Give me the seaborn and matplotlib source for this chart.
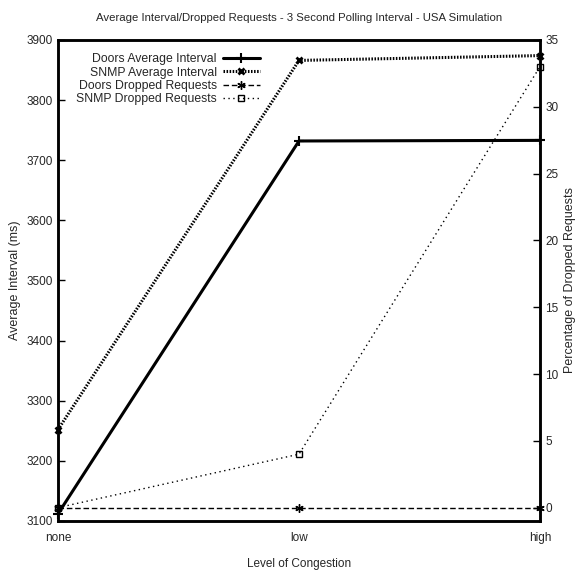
import matplotlib
matplotlib.use("Agg")
import matplotlib.pyplot as plt
import seaborn as sns
import pandas as pd

# Data
congestion = ["none", "low", "high"]
doors_avg = [3112, 3732, 3733]
snmp_avg = [3252, 3866, 3874]
doors_dropped = [0, 0, 0]
snmp_dropped = [0, 4, 33]

sns.set_theme(style="white")
plt.rcParams['font.family'] = ['Liberation Sans', 'DejaVu Sans']
plt.rcParams['font.size'] = 8.5

df = pd.DataFrame({"Level": congestion, "doors_avg": doors_avg, "snmp_avg": snmp_avg,
                   "doors_dropped": doors_dropped, "snmp_dropped": snmp_dropped})

fig = plt.figure(figsize=(5.8, 5.71), dpi=100)
ax = fig.add_axes([0.1, 0.0876, 0.831, 0.8424])
ax2 = ax.twinx()

sns.lineplot(data=df, x="Level", y="doors_avg", ax=ax, color="black", lw=2.2, clip_on=False,
             marker="+", markersize=7, mew=1.5, mec="black", label="Doors Average Interval", legend=False)
sns.lineplot(data=df, x="Level", y="snmp_avg", ax=ax, color="black", lw=2.2, clip_on=False,
             marker="x", markersize=5, mew=2, mec="black", label="SNMP Average Interval", legend=False)
ax.lines[-1].set_dashes((0.5, 0.5))
sns.lineplot(data=df, x="Level", y="doors_dropped", ax=ax2, color="black", lw=1, clip_on=False,
             marker=(6, 2, 0), markersize=6, mew=1, mec="black", label="Doors Dropped Requests", legend=False)
ax2.lines[-1].set_dashes((4, 2))
sns.lineplot(data=df, x="Level", y="snmp_dropped", ax=ax2, color="black", lw=1, clip_on=False,
             marker="s", markersize=5, mfc="none", mew=1, mec="black", label="SNMP Dropped Requests", legend=False)
ax2.lines[-1].set_dashes((1, 2.5))

ax.set_xlim(0, 2)
ax.set_ylim(3100, 3900)
ax.set_yticks(range(3100, 4000, 100))
ax2.set_ylim(-1, 35)
ax2.set_yticks(range(0, 40, 5))

ax.set_title("Average Interval/Dropped Requests - 3 Second Polling Interval - USA Simulation",
             fontsize=8.2, pad=14)
ax.set_xlabel("Level of Congestion", fontsize=8.5, labelpad=10)
ax.set_ylabel("Average Interval (ms)", fontsize=9)
ax2.set_ylabel("Percentage of Dropped Requests", fontsize=9)

for a in (ax, ax2):
    a.tick_params(direction="in", length=5, width=1, labelsize=8.5, color="black", pad=4)
    for s in a.spines.values():
        s.set_linewidth(1.8)
        s.set_color("black")
ax.tick_params(axis="x", pad=8)

h1, l1 = ax.get_legend_handles_labels()
h2, l2 = ax2.get_legend_handles_labels()
leg = ax2.legend(h1 + h2, l1 + l2, loc="upper left", bbox_to_anchor=(0.02, 0.99),
                 frameon=False, markerfirst=False, fontsize=8.8, handlelength=3,
                 handletextpad=0.5, labelspacing=0.1, borderaxespad=0.3)
for col in leg._legend_handle_box.get_children():
    col.align = "right"

fig.savefig("out.png", dpi=100)
